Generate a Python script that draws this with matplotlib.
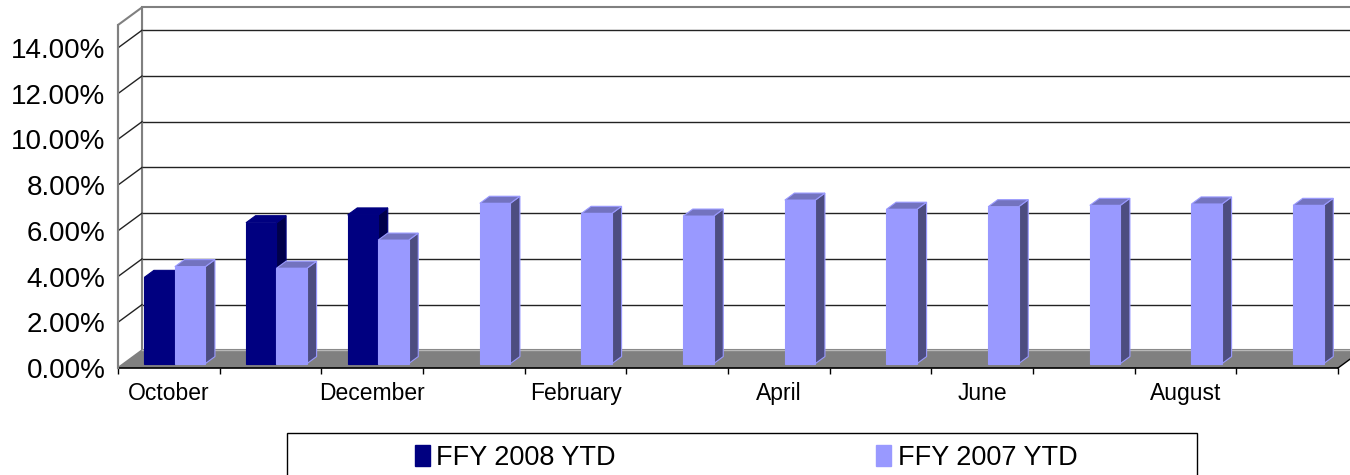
import numpy as np
import matplotlib
matplotlib.use("Agg")
import matplotlib.pyplot as plt
from matplotlib.patches import Polygon, Rectangle, Patch

plt.rcParams['font.family'] = ['Liberation Sans', 'DejaVu Sans']

# ---------------- data ----------------
months = ["October", "November", "December", "January", "February", "March",
          "April", "May", "June", "July", "August", "September"]
series_names = ["FFY 2008 YTD", "FFY 2007 YTD"]
ffy2008 = [3.77, 6.16, 6.50, np.nan, np.nan, np.nan,
           np.nan, np.nan, np.nan, np.nan, np.nan, np.nan]
ffy2007 = [4.24, 4.17, 5.40, 7.01, 6.57, 6.45,
           7.15, 6.75, 6.86, 6.92, 6.98, 6.92]
y_ticks = [0, 2, 4, 6, 8, 10, 12, 14]
y_labels = ["0.00%", "2.00%", "4.00%", "6.00%", "8.00%", "10.00%", "12.00%", "14.00%"]
label_every = 2

# ---------------- style ----------------
front_cols = ["#000080", "#9999FF"]
top_cols = ["#000080", "#7373BF"]
side_cols = ["#00004A", "#4D4D80"]
edge_cols = ["#000080", "#9999FF"]

fig = plt.figure(figsize=(13.5, 4.75), dpi=100)
ax = fig.add_axes([118 / 1350, 107 / 475, 1220 / 1350, 343 / 475])
n = len(months)
YMAX = 15
ax.set_xlim(0, n)
ax.set_ylim(0, YMAX)
for s in ax.spines.values():
    s.set_visible(False)
ax.patch.set_visible(False)

DX = 0.236   # depth offset (x, data units)
DY = 0.77    # depth offset (y, data units)
wall_gray = "#808080"

# back wall
ax.add_patch(Polygon([(DX, DY), (n + DX, DY), (n + DX, YMAX + DY), (DX, YMAX + DY)],
                     closed=True, fc="white", ec=wall_gray, lw=1.5, clip_on=False, zorder=0))
for v in y_ticks[1:]:
    ax.plot([DX, n + DX], [v + DY, v + DY], color="#222222", lw=1, clip_on=False, zorder=1)
# left wall
ax.add_patch(Polygon([(0, 0), (DX, DY), (DX, YMAX + DY), (0, YMAX)],
                     closed=True, fc="white", ec=wall_gray, lw=1.5, clip_on=False, zorder=1))
for v in y_ticks[1:]:
    ax.plot([0, DX], [v, v + DY], color="#222222", lw=1, clip_on=False, zorder=2)
# floor
ax.add_patch(Polygon([(0, 0), (n, 0), (n + DX, DY), (DX, DY)],
                     closed=True, fc="#808080", ec="none", clip_on=False, zorder=3))
ax.plot([DX, n + DX], [DY, DY], color="#b8b8b8", lw=1, clip_on=False, zorder=3)

# bars
ZF = 0.25
ZD = 0.40
bar_w = 0.30
offsets = [0.20, 0.50]
zo = 10
for i in range(n):
    for s, vals in enumerate([ffy2008, ffy2007]):
        v = vals[i]
        if np.isnan(v):
            continue
        x0 = i + offsets[s] + ZF * DX
        b = ZF * DY
        x1 = x0 + bar_w
        ddx, ddy = ZD * DX, ZD * DY
        ax.add_patch(Polygon([(x1, b), (x1 + ddx, b + ddy), (x1 + ddx, b + ddy + v), (x1, b + v)],
                             closed=True, fc=side_cols[s], ec=edge_cols[s], lw=0.8,
                             clip_on=False, zorder=zo))
        ax.add_patch(Polygon([(x0, b + v), (x1, b + v), (x1 + ddx, b + v + ddy), (x0 + ddx, b + v + ddy)],
                             closed=True, fc=top_cols[s], ec=edge_cols[s], lw=0.8,
                             clip_on=False, zorder=zo + 1))
        ax.bar(x0, v, bar_w, bottom=b, align="edge", color=front_cols[s],
               edgecolor=edge_cols[s], lw=0.8, zorder=zo + 2, clip_on=False)
        zo += 3

# axes lines
ax.plot([0, n], [0, 0], color="black", lw=1.2, clip_on=False, zorder=100)
ax.plot([n, n + DX], [0, DY], color="black", lw=1, clip_on=False, zorder=100)
ax.plot([0, 0], [0, YMAX], color=wall_gray, lw=1.5, clip_on=False, zorder=100)

# ticks
ax.set_yticks(y_ticks, y_labels, fontsize=20)
ax.tick_params(axis="y", length=0, pad=9)
ax.set_xticks([i + 0.5 for i in range(0, n, label_every)], months[::label_every], fontsize=16.5)
ax.set_xticks(range(n + 1), minor=True)
ax.tick_params(axis="x", which="major", length=0, pad=10)
ax.tick_params(axis="x", which="minor", length=4.5, width=1, color="black", direction="out")

# legend
handles = [Patch(fc=front_cols[0], ec=front_cols[0]), Patch(fc=front_cols[1], ec=front_cols[1])]
fig.legend(handles, series_names, loc="center", bbox_to_anchor=(746 / 1350, 1 - 458 / 475),
           ncol=2, frameon=False, fontsize=19.5, handlelength=0.55, handleheight=0.8,
           handletextpad=0.25, columnspacing=9.6)
fig.add_artist(Rectangle((287 / 1350, -0.05), 910 / 1350, 0.05 + (1 - 433 / 475),
                         transform=fig.transFigure, fill=False, ec="black", lw=1))

fig.savefig("out.png", dpi=100)
